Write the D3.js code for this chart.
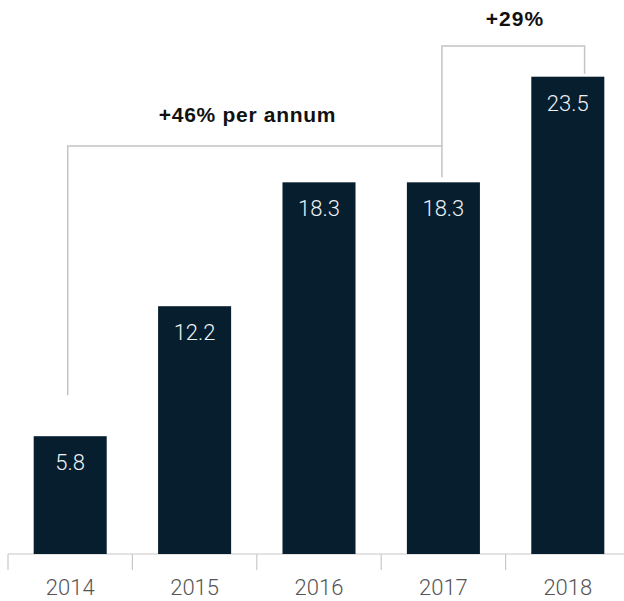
<!DOCTYPE html>
<html>
<head>
<meta charset="utf-8">
<script src="https://cdnjs.cloudflare.com/ajax/libs/d3/7.8.5/d3.min.js"></script>
<style>
  html, body { margin: 0; padding: 0; background: #ffffff; }
  svg { display: block; font-family: "Liberation Sans", Arial, Helvetica, sans-serif; }
  .light { font-family: Roboto, "Liberation Sans", Arial, sans-serif; font-weight: 300; }
</style>
</head>
<body>
<svg id="chart" width="624" height="601"></svg>
<script>
const years = ["2014", "2015", "2016", "2017", "2018"];
const values = [5.8, 12.2, 18.3, 18.3, 23.5];
const valueLabels = ["5.8", "12.2", "18.3", "18.3", "23.5"];
const annotations = ["+46% per annum", "+29%"];

const svg = d3.select("#chart");
const baseY = 554;

const x = d3.scaleBand().domain(years).range([8, 630]).paddingInner(0.413).paddingOuter(0.2065);
const y = d3.scaleLinear().domain([0, 23.5]).range([baseY, 76.7]);

const bandStep = x.step();
const bandStart = d => 8 + years.indexOf(d) * bandStep;
const cx = d => x(d) + x.bandwidth() / 2;

// axis line
svg.append("line").attr("x1", 8).attr("x2", 624).attr("y1", baseY).attr("y2", baseY)
  .attr("stroke", "#c8c8c8").attr("stroke-width", 1.2);
// ticks at band boundaries
svg.selectAll("line.tick").data(years).enter().append("line")
  .attr("class", "tick")
  .attr("x1", d => bandStart(d)).attr("x2", d => bandStart(d))
  .attr("y1", baseY).attr("y2", baseY + 16)
  .attr("stroke", "#c8c8c8").attr("stroke-width", 1.2);

// bars
svg.selectAll("rect.bar").data(values).enter().append("rect")
  .attr("class", "bar")
  .attr("x", (d, i) => x(years[i]))
  .attr("width", x.bandwidth())
  .attr("y", d => y(d))
  .attr("height", d => baseY - y(d))
  .attr("fill", "#071e2f");

// value labels
svg.selectAll("text.val").data(values).enter().append("text")
  .attr("class", "val light")
  .attr("x", (d, i) => cx(years[i]))
  .attr("y", d => y(d) + 34)
  .attr("text-anchor", "middle")
  .attr("font-size", 22)
  .attr("fill", "#eef2f5")
  .text((d, i) => valueLabels[i]);

// year labels
svg.selectAll("text.yr").data(years).enter().append("text")
  .attr("class", "yr light")
  .attr("x", d => cx(d))
  .attr("y", 595)
  .attr("text-anchor", "middle")
  .attr("font-size", 22)
  .attr("fill", "#555555")
  .text(d => d);

// bracket 1: 2014 -> 2017
const bx1 = cx("2014") - 2.5, bx2 = cx("2017") - 1.5, by1 = 146;
svg.append("path")
  .attr("d", `M${bx1},${y(values[0]) - 41} V${by1} H${bx2} V${y(values[3]) - 5}`)
  .attr("fill", "none").attr("stroke", "#c4c4c4").attr("stroke-width", 1.5);

// bracket 2: 2017 -> 2018
const cx2 = x("2018") + x.bandwidth() * 0.73, by2 = 46;
svg.append("path")
  .attr("d", `M${bx2},${by1} V${by2} H${cx2} V${y(values[4]) - 3}`)
  .attr("fill", "none").attr("stroke", "#c4c4c4").attr("stroke-width", 1.5);

svg.append("text").attr("x", 247.5).attr("y", 122)
  .attr("text-anchor", "middle").attr("font-size", 21).attr("font-weight", "bold")
  .attr("letter-spacing", 0.7)
  .attr("fill", "#111111").text(annotations[0]);
svg.append("text").attr("x", 515).attr("y", 26)
  .attr("text-anchor", "middle").attr("font-size", 21).attr("font-weight", "bold")
  .attr("letter-spacing", 1)
  .attr("fill", "#111111").text(annotations[1]);
</script>
</body>
</html>
